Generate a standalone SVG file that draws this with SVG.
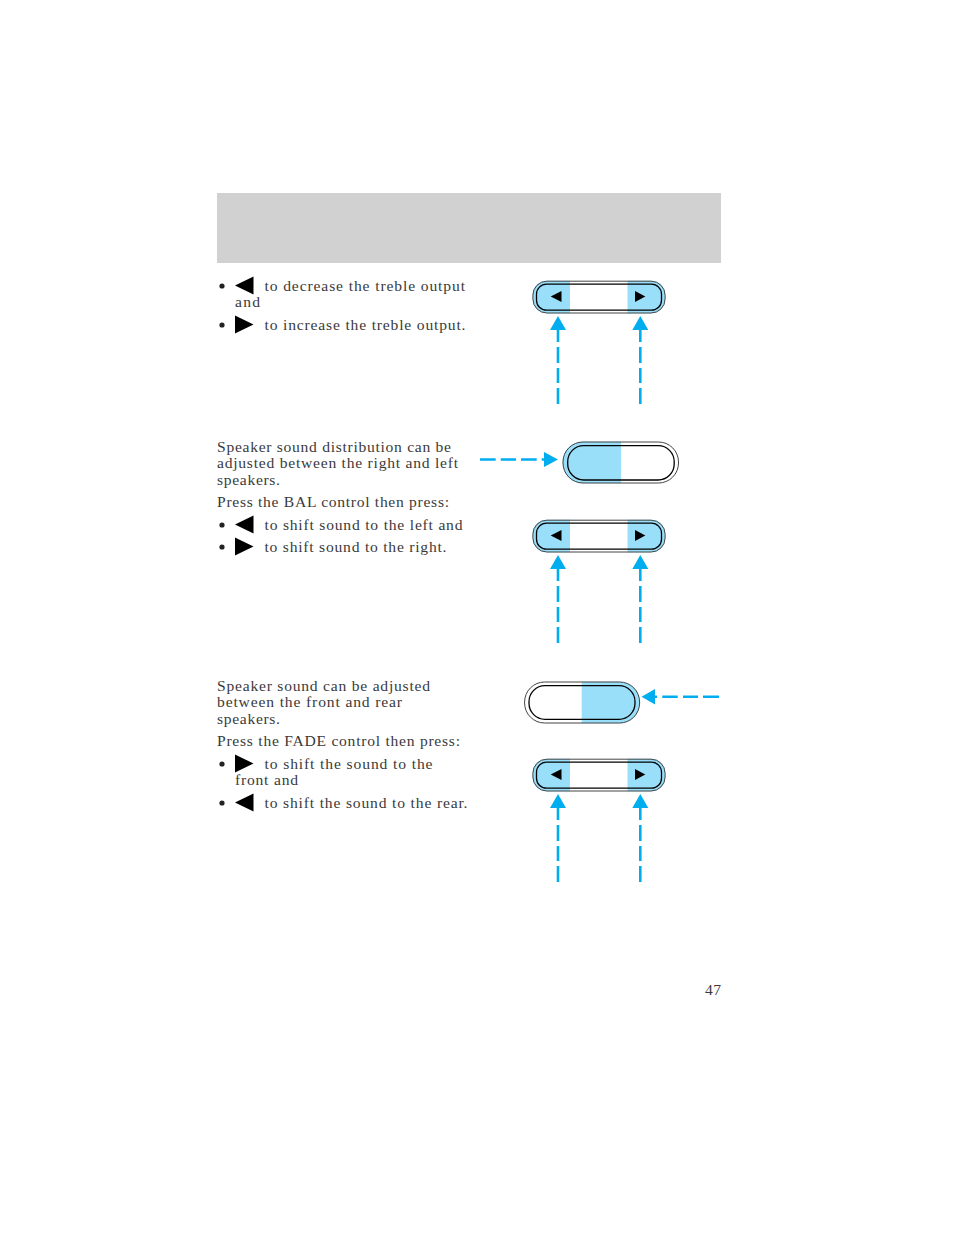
<svg xmlns="http://www.w3.org/2000/svg" width="954" height="1235" viewBox="0 0 954 1235">
<style>
.t{font-family:"Liberation Serif","Times New Roman",serif;font-size:15.6px;fill:#3a3a3a}
.o{fill:none;stroke:#444;stroke-width:1}
.i{fill:none;stroke:#000;stroke-width:1.3}
.b{fill:#99dffa}
.k{fill:#000}
.d{fill:none;stroke:#00aeef;stroke-width:2.6}
.h{fill:#00aeef}
</style>
<defs>
<clipPath id="rk"><rect x="532.7" y="280.7" width="132.6" height="32.6" rx="14"/></clipPath>
<clipPath id="bal"><rect x="562.7" y="441.7" width="116" height="41.6" rx="20"/></clipPath>
<clipPath id="fade"><rect x="524.3" y="681.7" width="115.4" height="41.6" rx="20"/></clipPath>
<g id="rocker">
<g clip-path="url(#rk)"><rect class="b" x="532" y="280" width="38" height="34"/><rect class="b" x="627.5" y="280" width="38" height="34"/></g>
<rect class="o" x="532.9" y="281.2" width="132.2" height="31.8" rx="14"/>
<rect class="i" x="536.5" y="284.2" width="125" height="26" rx="10"/>
<path class="k" d="M550.7 296.5L561.5 291V302Z"/>
<path class="k" d="M645.3 296.5L635 291V302Z"/>
</g>
<g id="upArrows">
<path class="d" d="M558 329V342M558 347V363M558 368V383M558 388V404"/>
<path class="h" d="M558 316L566 330H550Z"/>
<path class="d" d="M640.3 329V342M640.3 347V363M640.3 368V383M640.3 388V404"/>
<path class="h" d="M640.3 316L648.3 330H632.3Z"/>
</g>
<path id="triL" class="k" d="M235 285.5L253.5 276.5V294.5Z"/>
<path id="triR" class="k" d="M235 315.5L253.5 324.5L235 333.5Z"/>
</defs>
<rect id="header" x="217" y="193" width="504" height="70" fill="#d1d1d1"/>
<g id="text-treble">
<circle cx="222" cy="286" r="2.6" fill="#222"/><use href="#triL"/>
<text class="t" x="264.5" y="291" textLength="200.5">to decrease the treble output</text>
<text class="t" x="235" y="307" textLength="25">and</text>
<circle cx="222" cy="325" r="2.6" fill="#222"/><use href="#triR"/>
<text class="t" x="264.5" y="330" textLength="201">to increase the treble output.</text>
</g>
<g id="text-balance">
<text class="t" x="217" y="452" textLength="234">Speaker sound distribution can be</text>
<text class="t" x="217" y="468" textLength="241">adjusted between the right and left</text>
<text class="t" x="217" y="485" textLength="63">speakers.</text>
<text class="t" x="217" y="507" textLength="232">Press the BAL control then press:</text>
<circle cx="222" cy="525" r="2.6" fill="#222"/><use href="#triL" y="239"/>
<text class="t" x="264.5" y="530" textLength="198">to shift sound to the left and</text>
<circle cx="222" cy="547" r="2.6" fill="#222"/><use href="#triR" y="222"/>
<text class="t" x="264.5" y="552" textLength="182">to shift sound to the right.</text>
</g>
<g id="text-fade">
<text class="t" x="217" y="691" textLength="213">Speaker sound can be adjusted</text>
<text class="t" x="217" y="707" textLength="185">between the front and rear</text>
<text class="t" x="217" y="724" textLength="63">speakers.</text>
<text class="t" x="217" y="746" textLength="243">Press the FADE control then press:</text>
<circle cx="222" cy="764" r="2.6" fill="#222"/><use href="#triR" y="439"/>
<text class="t" x="264.5" y="769" textLength="168">to shift the sound to the</text>
<text class="t" x="235" y="785" textLength="63">front and</text>
<circle cx="222" cy="803" r="2.6" fill="#222"/><use href="#triL" y="517"/>
<text class="t" x="264.5" y="808" textLength="203">to shift the sound to the rear.</text>
</g>
<g id="rocker-treble"><use href="#rocker"/></g>
<g id="rocker-balance"><use href="#rocker" y="239"/></g>
<g id="rocker-fade"><use href="#rocker" y="478"/></g>
<g id="bal-button">
<rect class="b" x="562" y="441" width="59" height="43" clip-path="url(#bal)"/>
<rect class="o" x="563" y="442" width="115.5" height="41" rx="20"/>
<rect class="i" x="567.7" y="445.7" width="106.5" height="34.3" rx="16"/>
</g>
<g id="fade-button">
<rect class="b" x="581.7" y="681" width="59" height="43" clip-path="url(#fade)"/>
<rect class="o" x="524.6" y="682" width="115" height="41" rx="20"/>
<rect class="i" x="529" y="685.7" width="106" height="33.6" rx="16"/>
</g>
<g id="connectors">
<use href="#upArrows"/>
<use href="#upArrows" y="239"/>
<use href="#upArrows" y="478"/>
<path class="d" d="M480 459.5H495.7M500.7 459.5H516M521 459.5H536.7M541.7 459.5H545"/>
<path class="h" d="M558 459.5L544 452V467Z"/>
<path class="d" d="M654 696.7H657M662.3 696.7H677.7M683 696.7H698M703 696.7H719"/>
<path class="h" d="M641.5 696.7L655 689V704.5Z"/>
</g>
<text id="page-number" class="t" x="705" y="995" textLength="16">47</text>
</svg>
